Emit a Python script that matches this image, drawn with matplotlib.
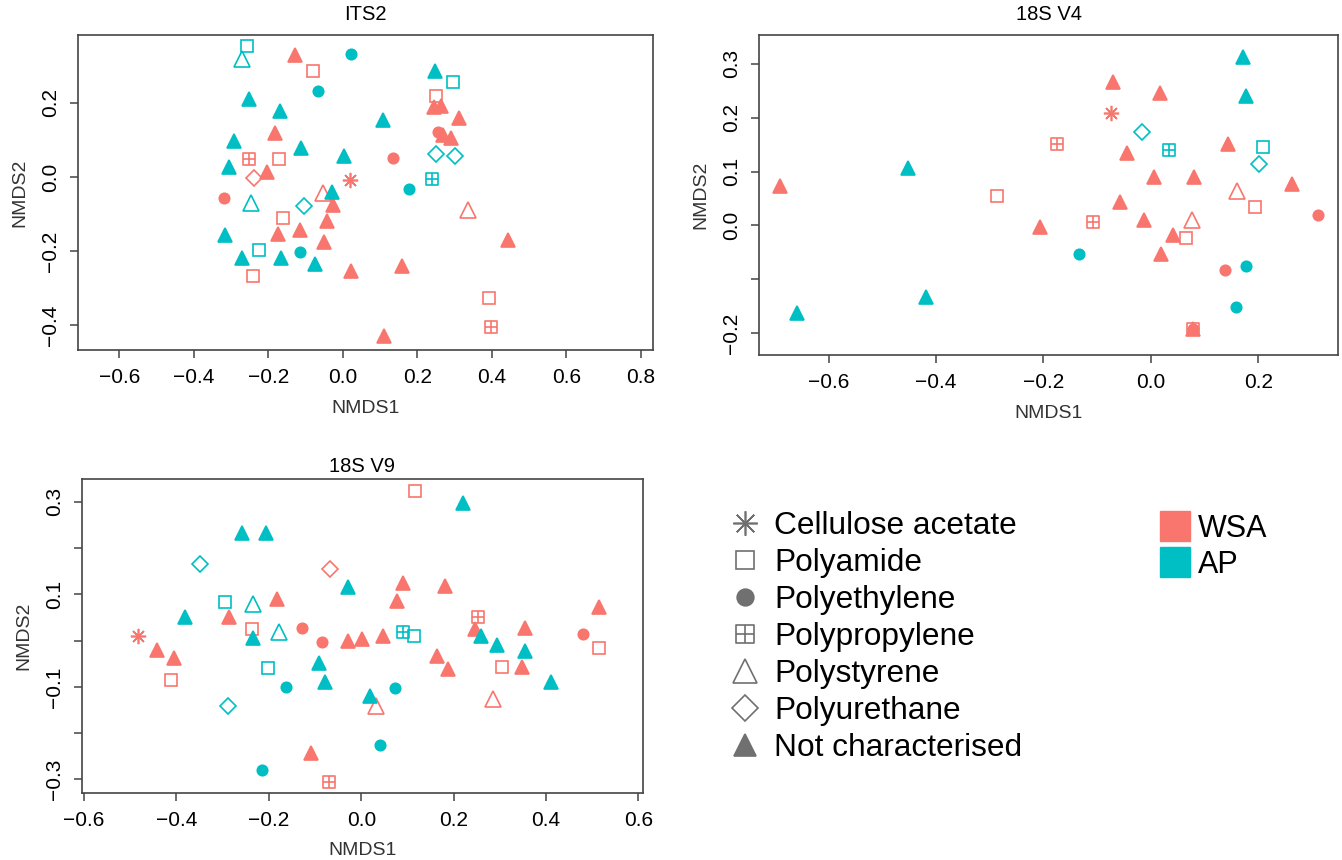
import matplotlib
matplotlib.use('Agg')
import matplotlib.pyplot as plt
from matplotlib.lines import Line2D
from matplotlib.path import Path

plt.rcParams['font.family'] = ['Liberation Sans', 'DejaVu Sans']

# polymer codes: CA cellulose acetate, PA polyamide, PE polyethylene,
# PP polypropylene, PS polystyrene, PU polyurethane, NC not characterised
its2_x = [-0.256, -0.270, -0.128, 0.022, -0.079, -0.065, -0.251, -0.168, -0.181, -0.292,
          -0.111, 0.003, -0.251, -0.171, -0.305, -0.204, -0.238, 0.020, -0.319, -0.247,
          -0.052, -0.030, -0.103, -0.025, -0.159, -0.041, -0.316, -0.173, -0.115, -0.050,
          -0.226, -0.115, -0.271, -0.166, -0.074, -0.240, 0.021, 0.247, 0.296, 0.250,
          0.244, 0.265, 0.311, 0.109, 0.255, 0.268, 0.290, 0.134, 0.251, 0.301,
          0.240, 0.178, 0.337, 0.443, 0.160, 0.394, 0.399, 0.112]
its2_y = [0.352, 0.319, 0.328, 0.332, 0.286, 0.232, 0.209, 0.178, 0.119, 0.097,
          0.078, 0.056, 0.049, 0.049, 0.027, 0.013, -0.004, -0.009, -0.057, -0.070,
          -0.043, -0.042, -0.079, -0.076, -0.112, -0.119, -0.157, -0.153, -0.144, -0.175,
          -0.196, -0.202, -0.220, -0.218, -0.236, -0.268, -0.253, 0.286, 0.256, 0.217,
          0.189, 0.190, 0.159, 0.153, 0.120, 0.113, 0.105, 0.052, 0.061, 0.056,
          -0.006, -0.034, -0.088, -0.171, -0.241, -0.328, -0.406, -0.429]
its2_polymer = ['PA', 'PS', 'NC', 'PE', 'PA', 'PE', 'NC', 'NC', 'NC', 'NC',
                'NC', 'NC', 'PP', 'PA', 'NC', 'NC', 'PU', 'CA', 'PE', 'PS',
                'PS', 'NC', 'PU', 'NC', 'PA', 'NC', 'NC', 'NC', 'NC', 'NC',
                'PA', 'PE', 'NC', 'NC', 'NC', 'PA', 'NC', 'NC', 'PA', 'PA',
                'NC', 'NC', 'NC', 'NC', 'PE', 'NC', 'NC', 'PE', 'PU', 'PU',
                'PP', 'PE', 'PS', 'NC', 'NC', 'PA', 'PP', 'NC']
its2_site = ['AP', 'AP', 'WSA', 'AP', 'WSA', 'AP', 'AP', 'AP', 'WSA', 'AP',
             'AP', 'AP', 'WSA', 'WSA', 'AP', 'WSA', 'WSA', 'WSA', 'WSA', 'AP',
             'WSA', 'AP', 'AP', 'WSA', 'WSA', 'WSA', 'AP', 'WSA', 'WSA', 'WSA',
             'AP', 'AP', 'AP', 'AP', 'AP', 'WSA', 'WSA', 'AP', 'AP', 'WSA',
             'WSA', 'WSA', 'WSA', 'AP', 'WSA', 'WSA', 'WSA', 'WSA', 'AP', 'AP',
             'AP', 'AP', 'WSA', 'WSA', 'WSA', 'WSA', 'WSA', 'WSA']

v4_x = [-0.691, -0.452, -0.287, -0.658, -0.418, 0.172, 0.178, -0.071, 0.018, -0.075,
        -0.016, -0.175, 0.034, -0.045, 0.144, 0.209, 0.201, 0.006, 0.080, 0.262,
        0.161, 0.194, 0.312, -0.058, -0.207, -0.107, -0.013, 0.076, 0.042, 0.065,
        0.019, -0.134, 0.139, 0.178, 0.158, 0.079, 0.079, 0.079]
v4_y = [0.074, 0.107, 0.054, -0.162, -0.133, 0.313, 0.240, 0.267, 0.245, 0.209,
        0.173, 0.152, 0.140, 0.134, 0.151, 0.146, 0.114, 0.090, 0.090, 0.077,
        0.063, 0.035, 0.020, 0.043, -0.003, 0.007, 0.010, 0.010, -0.017, -0.023,
        -0.054, -0.053, -0.083, -0.075, -0.151, -0.193, -0.193, -0.193]
v4_polymer = ['NC', 'NC', 'PA', 'NC', 'NC', 'NC', 'NC', 'NC', 'NC', 'CA',
              'PU', 'PP', 'PP', 'NC', 'NC', 'PA', 'PU', 'NC', 'NC', 'NC',
              'PS', 'PA', 'PE', 'NC', 'NC', 'PP', 'NC', 'PS', 'NC', 'PA',
              'NC', 'PE', 'PE', 'PE', 'PE', 'PP', 'NC', 'PE']
v4_site = ['WSA', 'AP', 'WSA', 'AP', 'AP', 'AP', 'AP', 'WSA', 'WSA', 'WSA',
           'AP', 'WSA', 'AP', 'WSA', 'WSA', 'AP', 'AP', 'WSA', 'WSA', 'WSA',
           'WSA', 'WSA', 'WSA', 'WSA', 'WSA', 'WSA', 'WSA', 'WSA', 'WSA', 'WSA',
           'WSA', 'AP', 'WSA', 'AP', 'AP', 'WSA', 'WSA', 'WSA']

v9_x = [-0.259, -0.206, -0.350, -0.068, -0.029, -0.295, -0.234, -0.182, -0.381, -0.286,
        -0.236, -0.234, -0.177, -0.129, -0.086, -0.029, -0.484, -0.441, -0.406, -0.411,
        -0.202, -0.091, -0.079, -0.163, -0.288, -0.109, -0.215, -0.069, 0.117, 0.221,
        0.090, 0.181, 0.078, 0.253, 0.355, 0.514, 0.480, 0.514, 0.001, 0.046,
        0.091, 0.115, 0.246, 0.260, 0.293, 0.354, 0.165, 0.188, 0.304, 0.347,
        0.410, 0.073, 0.018, 0.032, 0.286, 0.041]
v9_y = [0.233, 0.233, 0.166, 0.154, 0.115, 0.084, 0.079, 0.089, 0.050, 0.050,
        0.024, 0.005, 0.018, 0.027, -0.002, -0.001, 0.010, -0.020, -0.037, -0.085,
        -0.060, -0.048, -0.090, -0.101, -0.141, -0.244, -0.280, -0.305, 0.324, 0.298,
        0.125, 0.118, 0.086, 0.052, 0.027, 0.073, 0.014, -0.015, 0.004, 0.009,
        0.018, 0.010, 0.024, 0.011, -0.009, -0.022, -0.033, -0.061, -0.058, -0.058,
        -0.090, -0.103, -0.120, -0.141, -0.127, -0.225]
v9_polymer = ['NC', 'NC', 'PU', 'PU', 'NC', 'PA', 'PS', 'NC', 'NC', 'NC',
              'PA', 'NC', 'PS', 'PE', 'PE', 'NC', 'CA', 'NC', 'NC', 'PA',
              'PA', 'NC', 'NC', 'PE', 'PU', 'NC', 'PE', 'PP', 'PA', 'NC',
              'NC', 'NC', 'NC', 'PP', 'NC', 'NC', 'PE', 'PA', 'NC', 'NC',
              'PP', 'PA', 'NC', 'NC', 'NC', 'NC', 'NC', 'NC', 'PA', 'NC',
              'NC', 'PE', 'NC', 'PS', 'PS', 'PE']
v9_site = ['AP', 'AP', 'AP', 'WSA', 'AP', 'AP', 'AP', 'WSA', 'AP', 'WSA',
           'WSA', 'AP', 'AP', 'WSA', 'WSA', 'WSA', 'WSA', 'WSA', 'WSA', 'WSA',
           'AP', 'AP', 'AP', 'AP', 'AP', 'WSA', 'AP', 'WSA', 'WSA', 'AP',
           'WSA', 'WSA', 'WSA', 'WSA', 'WSA', 'WSA', 'WSA', 'WSA', 'WSA', 'WSA',
           'AP', 'AP', 'WSA', 'AP', 'AP', 'AP', 'WSA', 'WSA', 'WSA', 'WSA',
           'AP', 'AP', 'AP', 'WSA', 'WSA', 'AP']

polymer_codes = ['CA', 'PA', 'PE', 'PP', 'PS', 'PU', 'NC']
polymer_names = ['Cellulose acetate', 'Polyamide', 'Polyethylene', 'Polypropylene',
                 'Polystyrene', 'Polyurethane', 'Not characterised']
site_names = ['WSA', 'AP']
site_colors = {'WSA': '#F8766D', 'AP': '#00BFC4'}

# square with a cross inside (R pch 12)
boxplus = Path([(-1, -1), (1, -1), (1, 1), (-1, 1), (-1, -1),
                (-1, 0), (1, 0), (0, -1), (0, 1)],
               [Path.MOVETO, Path.LINETO, Path.LINETO, Path.LINETO, Path.CLOSEPOLY,
                Path.MOVETO, Path.LINETO, Path.MOVETO, Path.LINETO])

marker_style = {
    'CA': dict(marker=(8, 2, 0), ms=11, fill=False),
    'PA': dict(marker='s', ms=8.5, fill=False),
    'PE': dict(marker='o', ms=7.5, fill=True),
    'PP': dict(marker=boxplus, ms=8.5, fill=False),
    'PS': dict(marker='^', ms=11, fill=False),
    'PU': dict(marker='D', ms=8.5, fill=False),
    'NC': dict(marker='^', ms=10, fill=True),
}


def style_kw(code, color):
    st = marker_style[code]
    return dict(marker=st['marker'], ms=st['ms'], linestyle='none',
                mec=color, mfc=color if st['fill'] else 'none', mew=1.2)


def draw_panel(ax, xs, ys, polymers, sites):
    for code in polymer_codes:
        for site in site_names:
            px = [x for x, p, s in zip(xs, polymers, sites) if p == code and s == site]
            py = [y for y, p, s in zip(ys, polymers, sites) if p == code and s == site]
            if px:
                ax.plot(px, py, **style_kw(code, site_colors[site]))
    for sp in ax.spines.values():
        sp.set_color('#444444')
        sp.set_linewidth(1.2)
    ax.tick_params(direction='out', length=6, width=1.1, color='#444444',
                   labelsize=15, pad=7)
    ax.set_xlabel('NMDS1', fontsize=14, color='#333333', labelpad=9)
    ax.set_ylabel('NMDS2', fontsize=14, color='#333333', labelpad=9)


fig = plt.figure(figsize=(13.42, 8.6), dpi=100)

ax1 = fig.add_axes([0.0583, 0.593, 0.428, 0.366])
draw_panel(ax1, its2_x, its2_y, its2_polymer, its2_site)
ax1.set_xlim(-0.71, 0.832)
ax1.set_ylim(-0.467, 0.382)
ax1.set_xticks([-0.6, -0.4, -0.2, 0.0, 0.2, 0.4, 0.6, 0.8])
ax1.set_xticklabels(['\u22120.6', '\u22120.4', '\u22120.2', '0.0', '0.2', '0.4', '0.6', '0.8'])
ax1.set_yticks([-0.4, -0.2, 0.0, 0.2])
ax1.set_yticklabels(['\u22120.4', '\u22120.2', '0.0', '0.2'], rotation=90, va='center')
ax1.set_title('ITS2', fontsize=14.5, pad=11)

ax2 = fig.add_axes([0.5658, 0.587, 0.4314, 0.372])
draw_panel(ax2, v4_x, v4_y, v4_polymer, v4_site)
ax2.set_xlim(-0.729, 0.349)
ax2.set_ylim(-0.241, 0.353)
ax2.set_xticks([-0.6, -0.4, -0.2, 0.0, 0.2])
ax2.set_xticklabels(['\u22120.6', '\u22120.4', '\u22120.2', '0.0', '0.2'])
ax2.set_yticks([-0.2, -0.1, 0.0, 0.1, 0.2, 0.3])
ax2.set_yticklabels(['\u22120.2', '', '0.0', '0.1', '0.2', '0.3'], rotation=90, va='center')
ax2.set_title('18S V4', fontsize=14.5, pad=11)

ax3 = fig.add_axes([0.0609, 0.0783, 0.4183, 0.3644])
draw_panel(ax3, v9_x, v9_y, v9_polymer, v9_site)
ax3.set_xlim(-0.605, 0.61)
ax3.set_ylim(-0.329, 0.349)
ax3.set_xticks([-0.6, -0.4, -0.2, 0.0, 0.2, 0.4, 0.6])
ax3.set_xticklabels(['\u22120.6', '\u22120.4', '\u22120.2', '0.0', '0.2', '0.4', '0.6'])
ax3.set_yticks([-0.3, -0.2, -0.1, 0.0, 0.1, 0.2, 0.3])
ax3.set_yticklabels(['\u22120.3', '', '\u22120.1', '', '0.1', '', '0.3'], rotation=90, va='center')
ax3.set_title('18S V9', fontsize=14.5, pad=5)

# legends
gray = '#707070'
shape_handles = []
for code in polymer_codes:
    kw = style_kw(code, gray)
    kw['ms'] = kw['ms'] * 1.6
    shape_handles.append(Line2D([], [], **kw))
fig.legend(shape_handles, polymer_names, loc='upper left',
           bbox_to_anchor=(729 / 1342, 1 - 511 / 860), frameon=False,
           fontsize=22.8, handlelength=1.0, handletextpad=0.42,
           labelspacing=0.22, borderpad=0, borderaxespad=0)

site_handles = [Line2D([], [], marker='s', ms=21, linestyle='none',
                       mec=site_colors[s], mfc=site_colors[s]) for s in site_names]
fig.legend(site_handles, site_names, loc='upper left',
           bbox_to_anchor=(1161 / 1342, 1 - 514 / 860), frameon=False,
           fontsize=22, handlelength=0.9, handletextpad=0.3,
           labelspacing=0.2, borderpad=0, borderaxespad=0)

fig.savefig('out.png', dpi=100)
